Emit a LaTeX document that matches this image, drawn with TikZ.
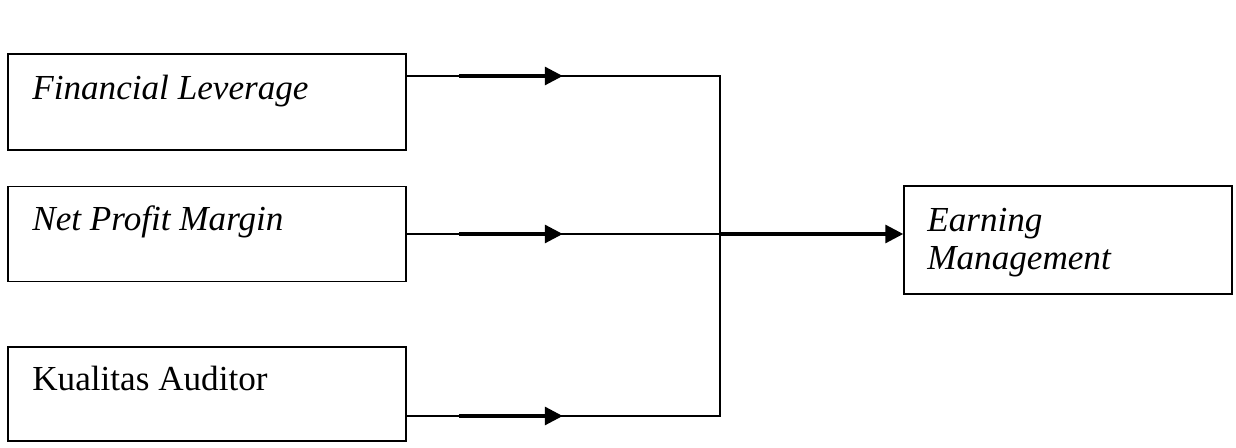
\documentclass[tikz,border=0pt]{standalone}
\usepackage{fontspec}
\setmainfont{Liberation Serif}
\usetikzlibrary{arrows.meta,positioning,calc}

\begin{document}
\begin{tikzpicture}[
  x=0.02cm, y=-0.02cm,
  font=\fontsize{20}{22}\selectfont,
  box/.style={draw, line width=0.9pt, inner sep=0pt, minimum width=7.96cm},
  txt/.style={anchor=base west, inner sep=0pt, align=left},
  line/.style={line width=0.9pt},
  arrow/.style={line width=1.8pt, -{Triangle[length=0.36cm, width=0.36cm]}}
]
\useasboundingbox (0,0) rectangle (1236,448);

\node[box, minimum height=1.92cm] (lev) at (207,102) {};
\node[box, minimum height=1.9cm] (npm) at (207,234) {};
\node[box, minimum height=1.88cm] (aud) at (207,394) {};
\node[box, minimum width=6.56cm, minimum height=2.16cm] (em) at (1068,240) {};

\node[txt] (levtxt) at (32,100) {\textit{Financial Leverage}};
\node[txt] (npmtxt) at (32,231) {\textit{Net Profit Margin}};
\node[txt] (audtxt) at (32,391) {Kualitas Auditor};
\node[txt] (emtxt) at (927,270) {\textit{Earning}\\\textit{Management}};

\coordinate (top) at (720,76);
\coordinate (mid) at (720,234);
\coordinate (bot) at (720,416);

% thin connectors
\draw[line] (lev.east |- top) -- (top) -- (bot) -- (aud.east |- bot);
\draw[line] (npm.east |- mid) -- (mid);

% arrows
\foreach \y in {top,mid,bot} {
  \draw[arrow] ($(lev.east |- \y)+(52,0)$) -- ($(lev.east |- \y)+(156,0)$);
}
\draw[arrow] (mid) -- (em.west |- mid);

\end{tikzpicture}
\end{document}
